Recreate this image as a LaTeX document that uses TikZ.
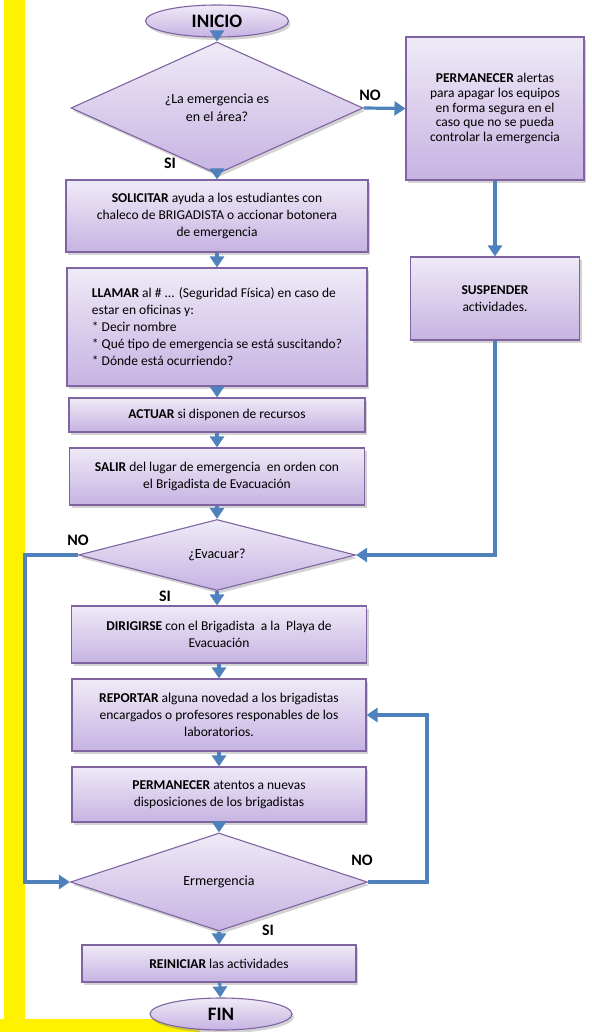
\documentclass[tikz,border=0pt]{standalone}
\usepackage{fontspec}
\setmainfont{Carlito}
\usetikzlibrary{shapes.geometric,arrows.meta,shadows}
\definecolor{boxtop}{HTML}{EFEAF7}
\definecolor{boxbot}{HTML}{C6B3E2}
\definecolor{boxline}{HTML}{8064A2}
\definecolor{flowblue}{HTML}{4F81BD}
\begin{document}
\begin{tikzpicture}[x=1pt,y=-1pt,
	shape base/.style={draw=boxline, line width=1.1pt, top color=boxtop, bottom color=boxbot,
		drop shadow={shadow xshift=2pt, shadow yshift=-3pt, opacity=0.35}},
	box/.style={shape base, rectangle, align=center, inner sep=2pt,
		font=\fontsize{13.5}{17}\selectfont},
	decision/.style={shape base, diamond, inner sep=0pt, align=center,
		font=\fontsize{14}{18}\selectfont},
	terminal/.style={shape base, ellipse, inner sep=0pt, font=\bfseries\fontsize{19}{21}\selectfont},
	flow/.style={draw=flowblue, line width=3.2pt, -{Triangle[width=14pt,length=11pt]}},
	answer/.style={font=\bfseries\fontsize{16}{18}\selectfont}]
	\useasboundingbox (0,0) rectangle (591,1032);
	\fill[yellow] (4,0) rectangle (25,1032);
	\fill[yellow] (0,1019) rectangle (200,1032);

	\node[terminal, minimum width=143pt, minimum height=32pt] (inicio) at (217,21) {INICIO};
	\node[decision, minimum width=292pt, minimum height=107pt] (area) at (217,108) {¿La emergencia es\\en el área?};
	\node[box, minimum width=178pt, minimum height=143pt, font=\fontsize{13.5}{14.8}\selectfont] (alertas) at (495,108.5)
		{\textbf{PERMANECER} alertas\\para apagar los equipos\\en forma segura en el\\caso que no se pueda\\controlar la emergencia};
	\node[box, minimum width=169pt, minimum height=83pt] (suspender) at (495,298.5) {\textbf{SUSPENDER}\\actividades.};
	\node[box, minimum width=302pt, minimum height=72pt] (solicitar) at (217,216)
		{\textbf{SOLICITAR} ayuda a los estudiantes con\\chaleco de BRIGADISTA o accionar botonera\\de emergencia};
	\node[box, align=left, minimum width=300pt, minimum height=118pt] (llamar) at (217,327)
		{\textbf{LLAMAR} al \# ... (Seguridad Física) en caso de\\estar en oficinas y:\\* Decir nombre\\* Qué tipo de emergencia se está suscitando?\\* Dónde está ocurriendo?};
	\node[box, minimum width=296pt, minimum height=34pt] (actuar) at (217,415) {\textbf{ACTUAR} si disponen de recursos};
	\node[box, minimum width=295pt, minimum height=57pt] (salir) at (217,476.5)
		{\textbf{SALIR} del lugar de emergencia\ \ en orden con\\el Brigadista de Evacuación};
	\node[decision, minimum width=277pt, minimum height=71pt] (evacuar) at (217,555) {¿Evacuar?};
	\node[box, minimum width=295pt, minimum height=57pt] (dirigir) at (219,634.5)
		{\textbf{DIRIGIRSE} con el Brigadista\ \ a la\ \ Playa de\\Evacuación};
	\node[box, minimum width=294pt, minimum height=72pt] (reportar) at (219,715)
		{\textbf{REPORTAR} alguna novedad a los brigadistas\\encargados o profesores responables de los\\laboratorios.};
	\node[box, minimum width=294pt, minimum height=55pt] (atentos) at (219,794.5)
		{\textbf{PERMANECER} atentos a nuevas\\disposiciones de los brigadistas};
	\node[decision, minimum width=297pt, minimum height=98pt] (ermergencia) at (219,882) {Ermergencia};
	\node[box, minimum width=274pt, minimum height=37pt] (reiniciar) at (219,963.5) {\textbf{REINICIAR} las actividades};
	\node[terminal, minimum width=142pt, minimum height=32pt] (fin) at (221,1014) {FIN};

	\node[answer] (no1) at (370,95) {NO};
	\node[answer] (si1) at (170,163) {SI};
	\node[answer] (no2) at (78,540) {NO};
	\node[answer] (si2) at (165,596) {SI};
	\node[answer] (no3) at (362,860) {NO};
	\node[answer] (si3) at (268,930) {SI};

	\coordinate (evacleft) at (25,555);
	\coordinate (loopright) at (427,882);

	\draw[flow] (inicio) -- (area);
	\draw[flow] (area) -- (solicitar);
	\draw[flow] (area.east) -- (alertas.west);
	\draw[flow] (alertas) -- (suspender);
	\draw[flow] (suspender.south) |- (evacuar.east);
	\draw[flow] (solicitar) -- (llamar);
	\draw[flow] (llamar) -- (actuar);
	\draw[flow] (actuar) -- (salir);
	\draw[flow] (salir) -- (evacuar);
	\draw[flow] (evacuar.south) -- (dirigir.north -| evacuar.south);
	\draw[flow] (evacuar.west) -- (evacleft) |- (ermergencia.west);
	\draw[flow] (dirigir) -- (reportar);
	\draw[flow] (reportar) -- (atentos);
	\draw[flow] (atentos) -- (ermergencia);
	\draw[flow] (ermergencia.east) -- (loopright) |- (reportar.east);
	\draw[flow] (ermergencia) -- (reiniciar);
	\draw[flow] (reiniciar) -- (fin);
\end{tikzpicture}
\end{document}
